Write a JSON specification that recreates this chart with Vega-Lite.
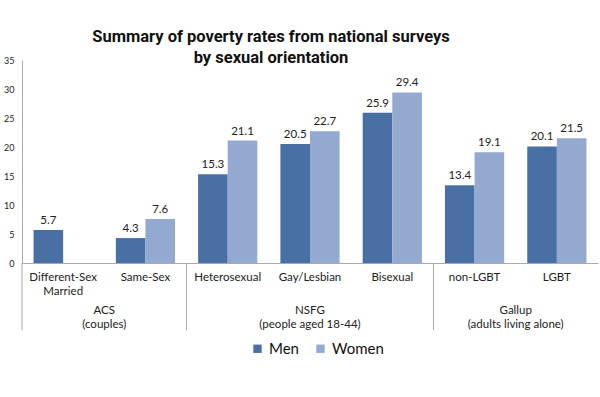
{
  "$schema": "https://vega.github.io/schema/vega-lite/v6.json",
  "width": 576,
  "height": 203,
  "autosize": {"type": "none"},
  "padding": {"left": 22, "top": 60, "right": 2, "bottom": 134},
  "background": "white",
  "config": {
    "view": {"stroke": null},
    "font": "Lato",
    "text": {"font": "Lato"},
    "axisY": {"title": null, "grid": false, "ticks": false, "domainColor": "#aaaaaa", "labelOverlap": false, "labelBound": false, "labelFlush": false, "labelFontSize": 9, "labelColor": "#222222", "labelPadding": 8, "tickCount": 7, "format": "d"}
  },
  "title": {
    "text": ["Summary of poverty rates from national surveys", "by sexual orientation"],
    "font": "Roboto",
    "fontWeight": "bold",
    "fontSize": 16.5,
    "lineHeight": 21,
    "anchor": "middle",
    "dx": -39,
    "offset": -10,
    "color": "#111"
  },
  "datasets": {
    "bars": [
      {"category": "Different-Sex Married", "sex": "Men", "value": 5.7},
      {"category": "Same-Sex", "sex": "Men", "value": 4.3},
      {"category": "Same-Sex", "sex": "Women", "value": 7.6},
      {"category": "Heterosexual", "sex": "Men", "value": 15.3},
      {"category": "Heterosexual", "sex": "Women", "value": 21.1},
      {"category": "Gay/Lesbian", "sex": "Men", "value": 20.5},
      {"category": "Gay/Lesbian", "sex": "Women", "value": 22.7},
      {"category": "Bisexual", "sex": "Men", "value": 25.9},
      {"category": "Bisexual", "sex": "Women", "value": 29.4},
      {"category": "non-LGBT", "sex": "Men", "value": 13.4},
      {"category": "non-LGBT", "sex": "Women", "value": 19.1},
      {"category": "LGBT", "sex": "Men", "value": 20.1},
      {"category": "LGBT", "sex": "Women", "value": 21.5}
    ],
    "seps": [
      {"first": "Different-Sex Married"},
      {"first": "Heterosexual"},
      {"first": "non-LGBT"}
    ],
    "groupsEven": [
      {"label": "ACS\n(couples)", "anchor": "Different-Sex Married"},
      {"label": "Gallup\n(adults living alone)", "anchor": "non-LGBT"}
    ],
    "groupsOdd": [
      {"label": "NSFG\n(people aged 18-44)", "anchor": "Gay/Lesbian"}
    ]
  },
  "layer": [
    {
      "data": {"name": "bars"},
      "mark": {"type": "bar"},
      "encoding": {
        "x": {
          "field": "category", "type": "nominal",
          "scale": {"domain": ["Different-Sex Married", "Same-Sex", "Heterosexual", "Gay/Lesbian", "Bisexual", "non-LGBT", "LGBT"], "paddingInner": 0, "paddingOuter": 0},
          "axis": {
            "title": null, "labelAngle": 0, "ticks": false, "domainColor": "#aaaaaa",
            "labelFontSize": 11.5, "labelColor": "#222222", "labelPadding": 8, "labelBaseline": "top",
            "labelLineHeight": 14, "labelOverlap": false,
            "labelExpr": "datum.value == 'Different-Sex Married' ? ['Different-Sex', 'Married'] : datum.value"
          }
        },
        "xOffset": {"field": "sex", "type": "nominal", "scale": {"domain": ["Men", "Women"], "paddingOuter": 0.39, "paddingInner": 0}},
        "y": {
          "field": "value", "type": "quantitative",
          "scale": {"domain": [0, 35], "nice": false},
          "axis": {"tickCount": 7, "labelOverlap": false}
        },
        "color": {
          "field": "sex", "type": "nominal",
          "scale": {"domain": ["Men", "Women"], "range": ["#4870A4", "#94A9D0"]},
          "legend": {
            "title": null, "orient": "none", "legendX": 228, "legendY": 281, "direction": "horizontal",
            "symbolType": "square", "symbolSize": 70, "labelFontSize": 15, "labelColor": "#111111", "columnPadding": 14
          }
        }
      }
    },
    {
      "data": {"name": "bars"},
      "mark": {"type": "text", "dy": -9, "fontSize": 11.5, "color": "#222222"},
      "encoding": {
        "x": {"field": "category", "type": "nominal"},
        "xOffset": {"field": "sex", "type": "nominal"},
        "y": {"field": "value", "type": "quantitative"},
        "text": {"field": "value", "type": "quantitative", "format": ".1f"}
      }
    },
    {
      "data": {"name": "seps"},
      "mark": {"type": "rule", "color": "#aaaaaa"},
      "encoding": {
        "x": {"field": "first", "type": "nominal", "bandPosition": 0},
        "y": {"datum": 0, "type": "quantitative"},
        "y2": {"datum": -11.6}
      }
    },
    {
      "data": {"name": "groupsEven"},
      "mark": {"type": "text", "baseline": "top", "dy": 42, "fontSize": 11.5, "lineHeight": 14, "lineBreak": "\n", "color": "#222222"},
      "encoding": {
        "x": {"field": "anchor", "type": "nominal", "bandPosition": 1},
        "y": {"datum": 0, "type": "quantitative"},
        "text": {"field": "label"}
      }
    },
    {
      "data": {"name": "groupsOdd"},
      "mark": {"type": "text", "baseline": "top", "dy": 42, "fontSize": 11.5, "lineHeight": 14, "lineBreak": "\n", "color": "#222222"},
      "encoding": {
        "x": {"field": "anchor", "type": "nominal", "bandPosition": 0.5},
        "y": {"datum": 0, "type": "quantitative"},
        "text": {"field": "label"}
      }
    }
  ]
}
